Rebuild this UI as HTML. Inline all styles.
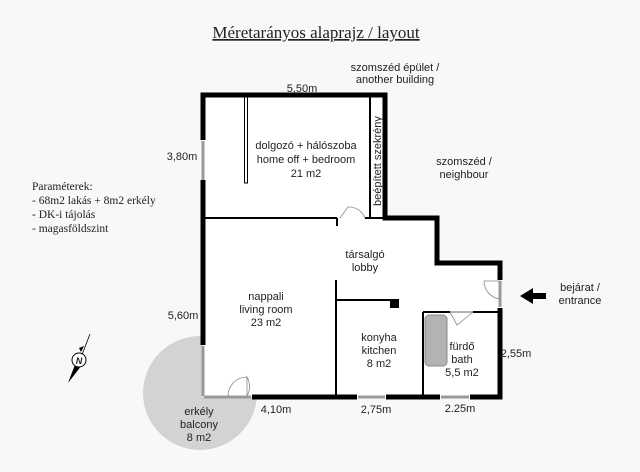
<!DOCTYPE html>
<html><head><style>
body{margin:0;background:#f8f8f8;}
svg{display:block}
text{font-family:"Liberation Sans",sans-serif;font-size:11px;fill:#222}
.s{font-family:"Liberation Serif",serif;}
</style></head><body>
<svg width="640" height="472" viewBox="0 0 640 472">
<rect width="640" height="472" fill="#f8f8f8"/>
<text x="316" y="38" class="s" text-anchor="middle" style="font-size:17px;text-decoration:underline">Méretarányos alaprajz / layout</text>
<circle cx="200" cy="393" r="57" fill="#d3d3d3"/>
<polygon points="203,95 385,95 385,218 437,218 437,263 500,263 500,397 203,397" fill="#fff"/>
<g fill="none" stroke="#000" stroke-width="5">
<path d="M203,140 V95 H385 V218 H437 V263 H500 V280"/>
<path d="M500,308 V397 H470"/>
<path d="M440,397 H386"/>
<path d="M357,397 H252"/>
<path d="M203,180 V345"/>
</g>
<g stroke="#999" stroke-width="3">
<line x1="203" y1="141" x2="203" y2="180"/>
<line x1="203" y1="346" x2="203" y2="396"/>
<line x1="204" y1="397" x2="251" y2="397"/>
<line x1="358" y1="397" x2="385" y2="397"/>
<line x1="441" y1="397" x2="469" y2="397"/>
<line x1="500" y1="281" x2="500" y2="307"/>
</g>
<g stroke="#000" stroke-width="2" fill="none">
<line x1="203" y1="218" x2="337" y2="218"/>
<line x1="365" y1="218" x2="385" y2="218"/>
<line x1="370" y1="97" x2="370" y2="218"/>
<line x1="336" y1="280" x2="336" y2="397"/>
<line x1="336" y1="300" x2="392" y2="300"/>
<line x1="423" y1="312" x2="450" y2="312"/>
<line x1="473" y1="312" x2="500" y2="312"/>
<line x1="423" y1="312" x2="423" y2="397"/>
<line x1="337" y1="218" x2="337" y2="226"/>
</g>
<line x1="450" y1="312" x2="473" y2="312" stroke="#999" stroke-width="1.5"/>
<rect x="244.5" y="97" width="3" height="86" fill="#fff" stroke="#000" stroke-width="1"/>
<rect x="390" y="299" width="9" height="9" fill="#000"/>
<g stroke="#888" stroke-width="0.8" fill="none">
<path d="M340,218 L348,207 A17,17 0 0 1 365,218"/>
<path d="M500,281 H484 A18,18 0 0 0 500,299"/>
<path d="M450,312 L457,325 L473,312"/>
<path d="M247,396 V377 A19,19 0 0 1 247,396"/>
<path d="M228,396 A19,19 0 0 1 247,377"/>
</g>
<rect x="425" y="315" width="22" height="51" rx="4" fill="#b3b3b3" stroke="#888"/>
<g text-anchor="middle">
<text x="302" y="92">5,50m</text>
<text x="182" y="160">3,80m</text>
<text x="183" y="319">5,60m</text>
<text x="276" y="413">4,10m</text>
<text x="376" y="413">2,75m</text>
<text x="460" y="412">2.25m</text>
<text x="516" y="357">2,55m</text>
<text x="306" y="149">dolgozó + hálószoba</text>
<text x="306" y="163">home off + bedroom</text>
<text x="306" y="177">21 m2</text>
<text x="365" y="258">társalgó</text>
<text x="365" y="271">lobby</text>
<text x="266" y="300">nappali</text>
<text x="266" y="313">living room</text>
<text x="266" y="326">23 m2</text>
<text x="379" y="341">konyha</text>
<text x="379" y="354">kitchen</text>
<text x="379" y="367">8 m2</text>
<text x="462" y="350">fürdő</text>
<text x="462" y="363">bath</text>
<text x="462" y="376">5,5 m2</text>
<text x="199" y="415">erkély</text>
<text x="199" y="428">balcony</text>
<text x="199" y="441">8 m2</text>
<text x="395" y="71">szomszéd épület /</text>
<text x="395" y="83">another building</text>
<text x="464" y="165">szomszéd /</text>
<text x="464" y="178">neighbour</text>
<text x="580" y="291">bejárat /</text>
<text x="580" y="304">entrance</text>
</g>
<text x="381" y="206" transform="rotate(-90 381 206)">beépített szekrény</text>
<text x="32" y="190" class="s" style="font-size:11.5px">Paraméterek:</text>
<text x="32" y="204" class="s" style="font-size:11.5px">- 68m2 lakás + 8m2 erkély</text>
<text x="32" y="218" class="s" style="font-size:11.5px">- DK-i tájolás</text>
<text x="32" y="232" class="s" style="font-size:11.5px">- magasföldszint</text>
<polygon points="520,296 533,288 533,293 546,293 546,299 533,299 533,304" fill="#000"/>
<g>
<line x1="80" y1="360" x2="90" y2="334" stroke="#000" stroke-width="0.8"/>
<polygon points="68,383 76,362 82,365" fill="#000"/>
<polygon points="79,348 84,346 81,352" fill="#000"/>
<circle cx="79" cy="360" r="7" fill="#fff" stroke="#000"/>
<text x="79" y="364" text-anchor="middle" style="font-size:9px;font-weight:bold;font-style:italic">N</text>
</g>
</svg>
</body></html>
